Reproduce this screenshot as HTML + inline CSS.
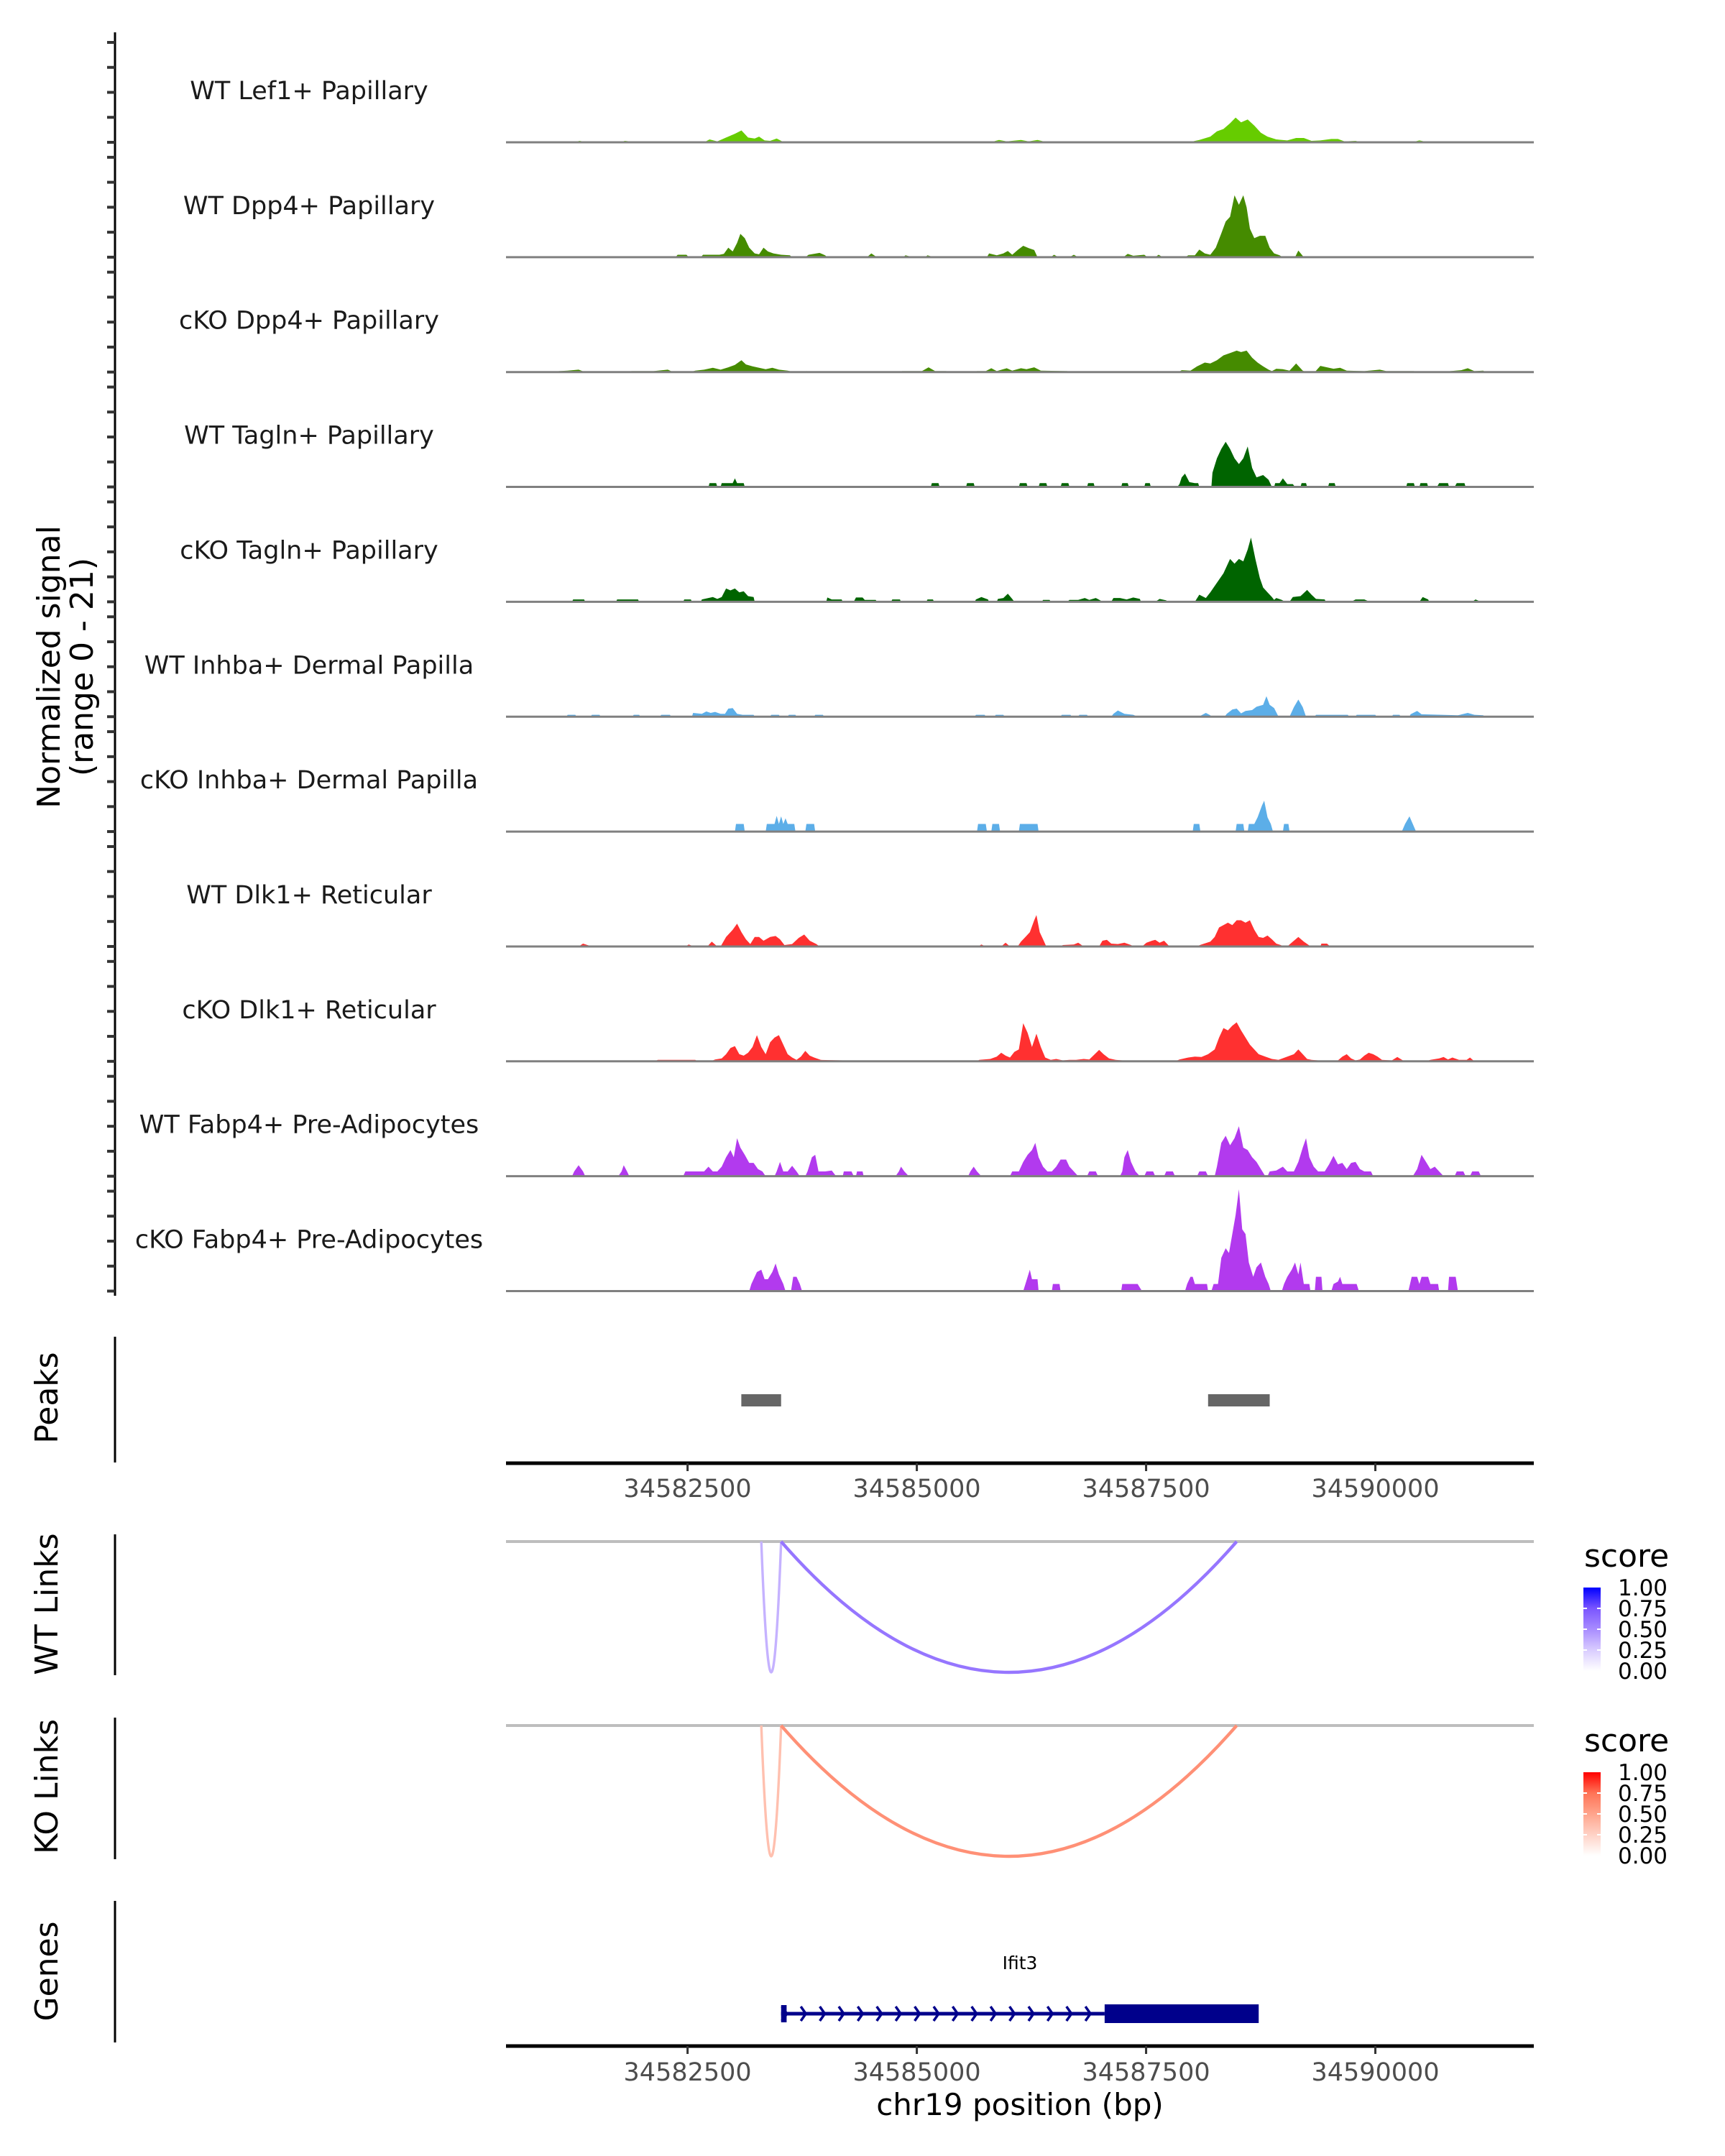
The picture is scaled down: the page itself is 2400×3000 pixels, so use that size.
<!DOCTYPE html>
<html><head><meta charset="utf-8"><title>Coverage plot chr19</title>
<style>
html,body{margin:0;padding:0;background:#fff;}
svg{display:block;font-family:"DejaVu Sans","Liberation Sans",sans-serif;}
</style></head>
<body>
<svg id="chart" xmlns="http://www.w3.org/2000/svg" width="2400" height="3000" viewBox="0 0 2400 3000"></svg>
<script>
// ---------- data ----------
const trackNames = ["WT Lef1+ Papillary","WT Dpp4+ Papillary","cKO Dpp4+ Papillary","WT Tagln+ Papillary","cKO Tagln+ Papillary","WT Inhba+ Dermal Papilla","cKO Inhba+ Dermal Papilla","WT Dlk1+ Reticular","cKO Dlk1+ Reticular","WT Fabp4+ Pre-Adipocytes","cKO Fabp4+ Pre-Adipocytes"];
const trackColors = ["#66cc00","#458b00","#458b00","#006400","#006400","#5caee8","#5caee8","#ff3030","#ff3030","#b23aee","#b23aee"];
const xTicks = [34582500,34585000,34587500,34590000];
const signalMax = 21;

const covWTLef1 = [[34581240,0],[34581324,.3],[34581408,0],[34581540,0],[34581588,.2],[34581636,0],[34581756,0],[34581816,.3],[34581912,.1],[34582080,.1],[34582152,0],[34582440,0],[34582500,.2],[34582584,0],[34582680,0],[34582740,.6],[34582824,.2],[34582920,1.0],[34583016,1.8],[34583088,2.5],[34583160,1.0],[34583232,.8],[34583280,1.2],[34583340,.4],[34583400,.3],[34583472,.8],[34583532,.2],[34583700,.1],[34583760,0],[34584840,0],[34584900,.15],[34585440,.15],[34585500,0],[34585800,0],[34585896,.5],[34585980,.2],[34586136,.5],[34586220,.2],[34586316,.5],[34586400,.1],[34587060,.1],[34587120,0],[34587960,0],[34588080,.5],[34588200,1.2],[34588272,2.3],[34588344,2.8],[34588416,4.0],[34588476,5.2],[34588536,4.2],[34588608,4.8],[34588680,3.5],[34588752,2.0],[34588824,1.2],[34588920,.6],[34589040,.4],[34589136,.9],[34589220,.9],[34589304,.3],[34589400,.4],[34589520,.7],[34589592,.7],[34589664,.2],[34589784,.3],[34589856,0],[34590396,0],[34590480,.4],[34590552,.1],[34591200,.1],[34591224,0]];
const covWTDpp4 = [[34582368,0],[34582392,.5],[34582488,.5],[34582512,0],[34582644,0],[34582668,.5],[34582848,.5],[34582896,.7],[34582944,2.0],[34582992,1.2],[34583040,3.0],[34583076,4.9],[34583124,4.0],[34583172,2.0],[34583232,.8],[34583280,.6],[34583328,2.0],[34583376,1.2],[34583436,.8],[34583520,.5],[34583616,.4],[34583640,0],[34583784,0],[34583820,.5],[34583940,.9],[34584000,.4],[34584024,0],[34584456,0],[34584504,.8],[34584564,0],[34584852,0],[34584876,.4],[34584960,0],[34585092,0],[34585116,.4],[34585188,0],[34585764,0],[34585788,.8],[34585872,.4],[34585944,.8],[34585992,1.3],[34586040,.5],[34586100,1.5],[34586160,2.4],[34586220,1.9],[34586280,1.5],[34586316,0],[34586460,0],[34586496,.5],[34586544,0],[34586664,0],[34586712,.5],[34586760,0],[34587252,0],[34587300,.7],[34587360,.3],[34587480,.5],[34587516,0],[34587600,0],[34587636,.5],[34587684,0],[34587924,0],[34587960,.4],[34588032,.4],[34588080,1.6],[34588140,.8],[34588200,.5],[34588260,2.0],[34588320,5.0],[34588368,7.5],[34588416,8.5],[34588464,13.0],[34588512,11.0],[34588560,13.0],[34588596,10.5],[34588632,6.0],[34588680,4.0],[34588740,4.5],[34588800,4.5],[34588848,2.0],[34588896,.8],[34588956,.4],[34588992,0],[34589124,0],[34589160,1.4],[34589220,0]];
const covKODpp4 = [[34581060,0],[34581096,.2],[34581192,.3],[34581312,.5],[34581384,0],[34581864,0],[34581888,.2],[34582128,.2],[34582284,.5],[34582344,0],[34582524,0],[34582584,.3],[34582680,.5],[34582776,.9],[34582860,.5],[34582944,1.0],[34583016,1.5],[34583088,2.5],[34583136,1.6],[34583208,1.2],[34583280,.9],[34583352,.6],[34583424,.9],[34583496,.5],[34583592,.3],[34583664,0],[34583760,0],[34583796,.2],[34583856,0],[34584816,0],[34584840,.2],[34585056,.2],[34585128,1.0],[34585200,.2],[34585320,.2],[34585344,0],[34585632,0],[34585656,.2],[34585752,.2],[34585812,.8],[34585872,.2],[34585980,.8],[34586040,.3],[34586136,.8],[34586196,.6],[34586280,1.0],[34586352,.3],[34586640,.2],[34586664,0],[34587600,0],[34587624,.2],[34587696,0],[34587852,0],[34587888,.4],[34587984,.3],[34588056,1.2],[34588140,2.0],[34588200,1.8],[34588272,2.5],[34588344,3.5],[34588416,4.0],[34588488,4.5],[34588536,4.2],[34588596,4.5],[34588656,3.0],[34588716,2.0],[34588776,1.2],[34588836,.5],[34588872,.2],[34588920,.7],[34588992,.6],[34589064,.3],[34589136,1.8],[34589208,.3],[34589244,0],[34589340,0],[34589400,1.3],[34589472,1.0],[34589544,.7],[34589616,.9],[34589688,.3],[34589880,.2],[34590048,.5],[34590120,.2],[34590420,.2],[34590456,0],[34590780,0],[34590816,.2],[34590936,.4],[34591008,.8],[34591080,.2],[34591176,.3],[34591200,0]];
const covWTTagln = [[34582728,0],[34582740,.8],[34582812,.8],[34582824,0],[34582860,0],[34582872,.8],[34582992,.8],[34583016,1.8],[34583040,.8],[34583112,.8],[34583124,0],[34585152,0],[34585164,.8],[34585236,.8],[34585248,0],[34585536,0],[34585548,.8],[34585620,.8],[34585632,0],[34586112,0],[34586124,.8],[34586196,.8],[34586208,0],[34586328,0],[34586340,.8],[34586412,.8],[34586424,0],[34586568,0],[34586580,.8],[34586652,.8],[34586664,0],[34586856,0],[34586868,.8],[34586928,.8],[34586940,0],[34587228,0],[34587240,.8],[34587300,.8],[34587312,0],[34587480,0],[34587492,.8],[34587540,.8],[34587552,0],[34587840,0],[34587864,.6],[34587888,2.0],[34587924,2.8],[34587972,1.0],[34588032,.8],[34588068,.8],[34588080,0],[34588212,0],[34588224,3.0],[34588272,6.0],[34588320,8.0],[34588368,9.5],[34588416,8.0],[34588464,6.0],[34588512,4.8],[34588560,6.0],[34588608,8.5],[34588656,4.0],[34588704,2.0],[34588776,2.5],[34588836,1.5],[34588872,0],[34588896,0],[34588908,.8],[34588956,.8],[34588992,1.8],[34589040,.6],[34589100,.6],[34589124,0],[34589184,0],[34589196,.8],[34589244,.8],[34589256,0],[34589484,0],[34589496,.8],[34589556,.8],[34589568,0],[34590336,0],[34590348,.8],[34590420,.8],[34590432,0],[34590480,0],[34590492,.8],[34590564,.8],[34590576,0],[34590672,0],[34590696,.8],[34590792,.8],[34590804,0],[34590864,0],[34590888,.8],[34590972,.8],[34590984,0]];
const covKOTagln = [[34581240,0],[34581252,.5],[34581372,.5],[34581384,0],[34581720,0],[34581732,.5],[34581960,.5],[34581972,0],[34582452,0],[34582464,.5],[34582536,.5],[34582548,0],[34582644,0],[34582656,.5],[34582776,1.0],[34582824,.6],[34582872,1.0],[34582920,2.8],[34582968,2.4],[34583016,2.8],[34583064,2.0],[34583112,2.2],[34583160,1.2],[34583220,1.0],[34583232,0],[34584012,0],[34584024,.9],[34584072,.5],[34584180,.5],[34584192,0],[34584312,0],[34584336,.9],[34584408,.9],[34584432,.4],[34584552,.4],[34584564,0],[34584720,0],[34584732,.5],[34584816,.5],[34584828,0],[34585104,0],[34585116,.5],[34585176,.5],[34585188,0],[34585632,0],[34585644,.5],[34585704,1.0],[34585776,.5],[34585788,0],[34585872,0],[34585884,.6],[34585944,.8],[34585992,1.7],[34586040,.6],[34586064,0],[34586364,0],[34586376,.4],[34586448,.4],[34586460,0],[34586640,0],[34586664,.4],[34586760,.4],[34586832,.8],[34586880,.4],[34586952,.8],[34587000,.3],[34587024,0],[34587120,0],[34587144,.8],[34587216,.8],[34587288,.5],[34587360,.9],[34587432,.6],[34587444,0],[34587600,0],[34587648,.6],[34587720,.3],[34587732,0],[34588032,0],[34588080,1.5],[34588152,.8],[34588200,2.0],[34588272,4.0],[34588344,6.0],[34588416,9.0],[34588464,8.0],[34588512,9.0],[34588560,8.5],[34588608,11.0],[34588644,13.5],[34588692,9.0],[34588740,5.0],[34588776,3.0],[34588824,2.0],[34588872,1.0],[34588896,.4],[34588920,.8],[34588980,.4],[34589016,0],[34589064,0],[34589100,1.0],[34589184,1.2],[34589256,2.5],[34589304,1.5],[34589352,.6],[34589448,.5],[34589460,0],[34589736,0],[34589784,.5],[34589880,.5],[34589940,0],[34590480,0],[34590516,1.0],[34590576,.5],[34590588,0],[34591056,0],[34591092,.5],[34591152,0]];
const covWTInhba = [[34581180,0],[34581192,.4],[34581276,.4],[34581288,0],[34581444,0],[34581456,.4],[34581540,.4],[34581552,0],[34581900,0],[34581912,.4],[34581972,.4],[34581984,0],[34582200,0],[34582212,.4],[34582308,.4],[34582320,0],[34582548,0],[34582560,.8],[34582656,.6],[34582704,1.1],[34582752,.8],[34582800,1.0],[34582860,.6],[34582908,.6],[34582944,1.7],[34582992,1.8],[34583040,.6],[34583100,.4],[34583220,.4],[34583232,0],[34583400,0],[34583412,.4],[34583496,.4],[34583508,0],[34583592,0],[34583604,.4],[34583676,.4],[34583688,0],[34583880,0],[34583892,.4],[34583976,.4],[34583988,0],[34585632,0],[34585644,.4],[34585740,.4],[34585752,0],[34585848,0],[34585860,.4],[34585944,.4],[34585956,0],[34586568,0],[34586580,.4],[34586676,.4],[34586688,0],[34586760,0],[34586772,.4],[34586856,.4],[34586868,0],[34587120,0],[34587144,.6],[34587192,1.3],[34587264,.6],[34587360,.4],[34587408,0],[34588080,0],[34588104,.3],[34588152,.8],[34588200,.3],[34588212,0],[34588356,0],[34588380,.6],[34588440,1.5],[34588488,1.7],[34588536,.7],[34588584,1.2],[34588656,1.4],[34588704,2.1],[34588776,2.5],[34588812,4.3],[34588848,2.5],[34588896,1.8],[34588944,0],[34589064,0],[34589112,2.0],[34589160,3.6],[34589208,2.0],[34589244,0],[34589340,0],[34589352,.4],[34589700,.4],[34589712,0],[34589784,0],[34589796,.4],[34590000,.4],[34590012,0],[34590180,0],[34590192,.4],[34590264,.4],[34590276,0],[34590372,0],[34590384,.5],[34590456,1.2],[34590504,.5],[34590900,.3],[34591008,.8],[34591080,.4],[34591176,.3],[34591188,0]];
const covKOInhba = [[34583016,0],[34583028,1.6],[34583112,1.6],[34583124,0],[34583352,0],[34583364,1.6],[34583448,1.6],[34583472,3.3],[34583496,1.6],[34583520,3.2],[34583544,1.6],[34583568,2.8],[34583592,1.6],[34583664,1.6],[34583676,0],[34583784,0],[34583796,1.6],[34583880,1.6],[34583892,0],[34585656,0],[34585668,1.6],[34585752,1.6],[34585764,0],[34585812,0],[34585824,1.6],[34585896,1.6],[34585908,0],[34586112,0],[34586124,1.6],[34586316,1.6],[34586328,0],[34588008,0],[34588020,1.6],[34588080,1.6],[34588092,0],[34588476,0],[34588488,1.6],[34588560,1.6],[34588572,0],[34588608,0],[34588620,1.6],[34588680,1.6],[34588716,3.0],[34588764,5.5],[34588788,6.5],[34588824,3.0],[34588860,1.6],[34588884,0],[34588992,0],[34589004,1.6],[34589052,1.6],[34589064,0],[34590288,0],[34590324,1.6],[34590372,3.2],[34590408,1.6],[34590444,0]];
const covWTDlk1 = [[34581312,0],[34581360,.6],[34581408,.3],[34581468,0],[34582476,0],[34582512,.4],[34582572,0],[34582716,0],[34582764,1.0],[34582824,0],[34582860,0],[34582920,2.0],[34582992,3.5],[34583040,4.8],[34583088,3.0],[34583136,1.5],[34583184,.5],[34583232,2.0],[34583280,2.0],[34583328,1.2],[34583400,2.0],[34583460,2.2],[34583508,1.5],[34583556,.3],[34583640,.5],[34583712,1.8],[34583772,2.5],[34583832,1.2],[34583904,.5],[34583940,0],[34585668,0],[34585704,.4],[34585752,0],[34585920,0],[34585968,.8],[34586016,0],[34586100,0],[34586136,1.0],[34586184,2.0],[34586232,3.0],[34586280,5.5],[34586304,6.6],[34586340,3.0],[34586376,1.5],[34586412,0],[34586568,0],[34586592,.3],[34586712,.4],[34586760,.8],[34586820,0],[34586988,0],[34587024,1.2],[34587072,1.4],[34587120,.6],[34587192,.5],[34587264,.8],[34587336,.3],[34587372,0],[34587456,0],[34587504,.8],[34587564,1.2],[34587600,1.4],[34587648,.8],[34587696,1.2],[34587756,0],[34588044,0],[34588104,.4],[34588200,1.0],[34588248,2.0],[34588296,4.0],[34588344,4.5],[34588392,5.0],[34588440,4.5],[34588488,5.5],[34588536,5.5],[34588584,5.0],[34588632,5.5],[34588680,3.5],[34588728,2.0],[34588776,1.8],[34588824,2.3],[34588872,1.5],[34588920,.6],[34588968,.3],[34589004,0],[34589040,0],[34589100,1.0],[34589160,2.0],[34589220,1.0],[34589280,.2],[34589304,0],[34589400,0],[34589412,.6],[34589472,.6],[34589496,.2],[34589616,.2],[34589640,0]];
const covKODlk1 = [[34582140,0],[34582176,.3],[34582584,.3],[34582608,0],[34582752,0],[34582800,.4],[34582872,.6],[34582920,1.5],[34582968,2.8],[34583016,3.2],[34583064,1.5],[34583112,1.2],[34583160,1.8],[34583208,3.0],[34583256,5.5],[34583304,3.0],[34583352,1.5],[34583400,4.0],[34583448,5.0],[34583496,5.5],[34583544,3.5],[34583592,1.5],[34583640,.8],[34583688,.3],[34583736,1.0],[34583784,2.2],[34583832,1.2],[34583880,.8],[34583952,.3],[34584192,.2],[34584216,0],[34584420,0],[34584444,.2],[34584492,0],[34584672,0],[34584696,.2],[34584744,0],[34585032,0],[34585056,.2],[34585272,.2],[34585296,0],[34585524,0],[34585560,.2],[34585608,0],[34585656,0],[34585680,.3],[34585800,.5],[34585872,1.0],[34585920,1.8],[34585968,1.2],[34586016,.8],[34586064,2.0],[34586112,2.5],[34586160,8.0],[34586208,6.0],[34586256,3.0],[34586304,5.8],[34586352,3.0],[34586400,.8],[34586460,.3],[34586520,.5],[34586592,.2],[34586664,.3],[34586736,.3],[34586820,.5],[34586880,.4],[34586940,1.5],[34586988,2.4],[34587036,1.5],[34587096,.6],[34587168,.3],[34587240,.2],[34587264,0],[34587816,0],[34587864,.4],[34587960,.8],[34588032,1.0],[34588104,.9],[34588176,1.5],[34588248,2.5],[34588296,5.0],[34588344,7.0],[34588392,6.5],[34588440,7.5],[34588488,8.2],[34588536,6.5],[34588584,5.0],[34588632,3.5],[34588680,2.5],[34588728,1.5],[34588800,1.0],[34588872,.5],[34588944,.3],[34589040,1.0],[34589112,1.5],[34589160,2.5],[34589208,1.5],[34589256,.5],[34589304,.3],[34589376,.2],[34589520,.2],[34589592,.2],[34589640,1.0],[34589688,1.5],[34589736,.6],[34589784,.2],[34589832,.4],[34589880,1.2],[34589928,1.8],[34589976,1.5],[34590024,1.0],[34590072,.3],[34590180,.2],[34590240,.9],[34590300,.2],[34590360,0],[34590552,0],[34590600,.3],[34590696,.6],[34590744,.9],[34590792,.4],[34590840,.8],[34590912,.3],[34590996,.3],[34591032,.8],[34591068,.2],[34591200,.2],[34591224,0]];
const covWTFabp4 = [[34581240,0],[34581264,1.0],[34581312,2.3],[34581360,1.0],[34581384,0],[34581744,0],[34581780,1.0],[34581804,2.3],[34581840,1.0],[34581864,0],[34582452,0],[34582476,1.0],[34582680,1.0],[34582728,2.0],[34582776,1.0],[34582824,1.0],[34582872,2.0],[34582920,4.0],[34582968,5.5],[34583004,4.0],[34583040,8.0],[34583076,6.0],[34583124,4.5],[34583172,2.8],[34583220,2.8],[34583268,1.5],[34583316,1.0],[34583352,0],[34583448,0],[34583472,1.0],[34583508,3.0],[34583544,1.0],[34583592,1.0],[34583640,2.2],[34583688,1.0],[34583724,0],[34583784,0],[34583808,1.0],[34583856,4.0],[34583892,4.5],[34583928,1.0],[34584000,1.0],[34584072,1.2],[34584120,0],[34584192,0],[34584204,1.0],[34584288,1.0],[34584312,0],[34584336,0],[34584348,1.0],[34584408,1.0],[34584420,0],[34584768,0],[34584804,1.0],[34584828,2.0],[34584864,1.0],[34584912,0],[34585560,0],[34585584,1.0],[34585620,2.0],[34585656,1.0],[34585704,0],[34586016,0],[34586040,1.0],[34586112,1.0],[34586160,3.0],[34586208,4.5],[34586256,5.5],[34586292,7.0],[34586328,4.0],[34586376,2.0],[34586424,1.0],[34586472,1.0],[34586520,2.0],[34586568,3.5],[34586628,3.5],[34586664,2.0],[34586712,1.0],[34586760,0],[34586856,0],[34586880,1.0],[34586952,1.0],[34586976,0],[34587216,0],[34587240,1.0],[34587264,4.0],[34587300,5.5],[34587336,3.0],[34587384,1.0],[34587432,0],[34587480,0],[34587504,1.0],[34587576,1.0],[34587600,0],[34587696,0],[34587720,1.0],[34587792,1.0],[34587816,0],[34588056,0],[34588080,1.0],[34588152,1.0],[34588176,0],[34588248,0],[34588272,2.0],[34588320,7.0],[34588368,8.5],[34588416,6.5],[34588464,8.0],[34588512,10.5],[34588560,6.0],[34588608,5.5],[34588656,4.0],[34588704,3.0],[34588752,1.5],[34588800,0],[34588824,0],[34588848,1.0],[34588920,1.2],[34588992,2.0],[34589040,1.0],[34589112,1.0],[34589160,3.0],[34589208,6.0],[34589244,8.0],[34589280,4.0],[34589328,2.0],[34589376,1.0],[34589448,1.0],[34589496,2.5],[34589544,4.3],[34589592,2.5],[34589640,2.8],[34589688,1.5],[34589736,2.8],[34589784,3.0],[34589832,1.5],[34589880,1.0],[34589952,1.0],[34589976,0],[34590408,0],[34590456,1.5],[34590504,4.5],[34590552,3.0],[34590600,1.5],[34590648,2.0],[34590696,1.0],[34590744,0],[34590864,0],[34590888,1.0],[34590960,1.0],[34590984,0],[34591032,0],[34591056,1.0],[34591128,1.0],[34591152,0]];
const covKOFabp4 = [[34583172,0],[34583196,1.5],[34583256,4.0],[34583304,4.5],[34583340,2.5],[34583376,2.5],[34583424,4.0],[34583460,5.8],[34583496,3.5],[34583544,1.5],[34583568,0],[34583628,0],[34583652,3.0],[34583688,3.0],[34583724,1.5],[34583748,0],[34586160,0],[34586184,1.5],[34586232,4.5],[34586256,2.5],[34586316,2.5],[34586328,0],[34586472,0],[34586484,1.5],[34586556,1.5],[34586568,0],[34587228,0],[34587240,1.5],[34587408,1.5],[34587456,0],[34587924,0],[34587948,1.5],[34587984,3.0],[34588008,3.0],[34588032,1.5],[34588164,1.5],[34588176,0],[34588212,0],[34588236,1.5],[34588284,1.5],[34588320,7.0],[34588368,9.0],[34588404,8.0],[34588440,12.0],[34588476,16.0],[34588512,21.4],[34588548,13.0],[34588584,12.0],[34588620,6.0],[34588668,3.0],[34588704,5.0],[34588752,6.0],[34588800,3.0],[34588836,1.5],[34588860,0],[34588980,0],[34589004,1.5],[34589040,3.0],[34589088,4.5],[34589124,6.0],[34589160,3.5],[34589184,6.0],[34589220,1.5],[34589280,1.5],[34589292,0],[34589340,0],[34589352,3.0],[34589412,3.0],[34589424,0],[34589520,0],[34589544,1.5],[34589592,2.0],[34589616,3.0],[34589640,1.5],[34589796,1.5],[34589820,0],[34590360,0],[34590396,3.0],[34590456,3.0],[34590480,1.5],[34590504,3.0],[34590576,3.0],[34590600,1.5],[34590684,1.5],[34590696,0],[34590792,0],[34590804,3.0],[34590876,3.0],[34590900,0]];
const coverage = [covWTLef1,covWTDpp4,covKODpp4,covWTTagln,covKOTagln,covWTInhba,covKOInhba,covWTDlk1,covKODlk1,covWTFabp4,covKOFabp4];

const peakStarts = [34583086,34588176];
const peakEnds = [34583520,34588848];

const wtLinkStarts = [34583304,34583520];
const wtLinkEnds = [34583520,34588488];
const wtLinkScores = [0.35,0.6];
const koLinkStarts = [34583304,34583520];
const koLinkEnds = [34583520,34588488];
const koLinkScores = [0.35,0.6];
const legendTicks = [1.00,0.75,0.50,0.25,0.00];

const geneName = "Ifit3";
const geneStart = 34583520, geneEnd = 34588728;
const exonStarts = [34583520,34587048];
const exonEnds = [34583580,34588728];
const cdsStart = 34587048;

// ---------- layout ----------
const svg = document.getElementById('chart');
const NS = 'http://www.w3.org/2000/svg';
const X0 = 704, X1 = 2134, DOM0 = 34580520, DOM1 = 34591728;
function xs(bp){ return X0 + (bp - DOM0) * (X1 - X0) / (DOM1 - DOM0); }
const TRACK_BASE0 = 198, TRACK_STEP = 159.85, TRACK_H = 139;
function ys(v, base){ return base - v / signalMax * TRACK_H; }
function mk(tag, attrs, parent){
  const e = document.createElementNS(NS, tag);
  for (const k in attrs) e.setAttribute(k, attrs[k]);
  (parent || svg).appendChild(e);
  return e;
}
function txt(str, attrs, parent){ const t = mk('text', attrs, parent); t.textContent = str; return t; }

// Left axis for coverage tracks
const yAxis = mk('line', {x1:160,y1:45,x2:160,y2:1803,stroke:'#000','stroke-width':3});



const yTitle = txt('Normalized signal', {x:0,y:0,'font-size':44,'text-anchor':'middle',fill:'#000',transform:'translate(83,928) rotate(-90)'});


const yTitle2 = txt('(range 0 - 21)', {x:0,y:0,'font-size':44,'text-anchor':'middle',fill:'#000',transform:'translate(129,928) rotate(-90)'});



coverage.forEach((pts, i) => {
  const base = TRACK_BASE0 + i * TRACK_STEP;
  const g = mk('g', {});
  
  
  for (let k = 0; k < 5; k++) {
    const tk = mk('line', {x1:149,x2:160,y1:base - k * TRACK_H / 4,y2:base - k * TRACK_H / 4,stroke:'#333','stroke-width':4}, g);
    
    
  }
  let d = 'M' + xs(pts[0][0]).toFixed(1) + ',' + base;
  pts.forEach(p => { d += 'L' + xs(p[0]).toFixed(1) + ',' + ys(p[1], base).toFixed(1); });
  d += 'L' + xs(pts[pts.length-1][0]).toFixed(1) + ',' + base + 'Z';
  const area = mk('path', {d:d, fill:trackColors[i]}, g);
  
  
  const bl = mk('line', {x1:X0,x2:X1,y1:base,y2:base,stroke:'#808080','stroke-width':3}, g);
  
  
  const lab = txt(trackNames[i], {x:430,y:base - 60,'font-size':35,'text-anchor':'middle',fill:'#1a1a1a'}, g);
  
  
});

// side panels: axis lines and labels
const panels = [['Peaks',1860,2035,1945,'peaks'],['WT Links',2135,2331,2232,'wt-links'],['KO Links',2390,2587,2486,'ko-links'],['Genes',2645,2842,2743,'genes']];
panels.forEach(p => {
  const ln = mk('line', {x1:160,x2:160,y1:p[1],y2:p[2],stroke:'#000','stroke-width':3});
  
  
  const t = txt(p[0], {x:0,y:0,'font-size':44,'text-anchor':'middle',fill:'#000',transform:'translate(80,' + p[3] + ') rotate(-90)'});
  
  
});

// peaks
peakStarts.forEach((s, i) => {
  const r = mk('rect', {x:xs(s),y:1940,width:xs(peakEnds[i]) - xs(s),height:17,fill:'#666666'});
  
  
});

function xAxis(y, labelY, name){
  const g = mk('g', {});
  
  
  mk('line', {x1:X0,x2:X1,y1:y,y2:y,stroke:'#000','stroke-width':5}, g);
  xTicks.forEach(t => {
    const tk = mk('line', {x1:xs(t),x2:xs(t),y1:y,y2:y + 11,stroke:'#333','stroke-width':3}, g);
    
    
    const lb = txt(String(t), {x:xs(t),y:labelY,'font-size':35,'text-anchor':'middle',fill:'#4d4d4d'}, g);
    
    
  });
}
xAxis(2036, 2083, 'peaks-x-axis');

// links
function lerpHex(a, b, t){
  const pa = [1,3,5].map(i => parseInt(a.substr(i,2),16));
  const pb = [1,3,5].map(i => parseInt(b.substr(i,2),16));
  return 'rgb(' + pa.map((v,i) => Math.round(v + (pb[i]-v)*t)).join(',') + ')';
}
function scoreColor(stops, s){
  const n = stops.length - 1;
  const k = Math.min(n - 1, Math.floor(s * n));
  return lerpHex(stops[k], stops[k+1], s * n - k);
}
const blueStops = ['#ffffff','#d9ccff','#a88cff','#7a55ff','#0000ff'];
const redStops = ['#ffffff','#ffd2c6','#ffa48c','#ff7356','#ff0000'];

function linkPanel(baseY, bottomY, starts, ends, scores, stops, name, legendY, legName){
  const g = mk('g', {});
  
  
  mk('line', {x1:X0,x2:X1,y1:baseY,y2:baseY,stroke:'#bebebe','stroke-width':4}, g);
  starts.forEach((s, i) => {
    const xa = xs(s), xb = xs(ends[i]);
    const ctrlY = baseY + 2 * (bottomY - baseY);
    const p = mk('path', {d:'M' + xa + ',' + baseY + ' Q' + ((xa+xb)/2) + ',' + ctrlY + ' ' + xb + ',' + baseY, fill:'none', stroke:scoreColor(stops, scores[i]), 'stroke-width':2 + scores[i]*4}, g);
    
    
  });
  // legend
  const lg = mk('g', {});
  
  
  txt('score', {x:2204,y:legendY,'font-size':44,fill:'#000'}, lg);
  const barTop = legendY + 29, barBot = legendY + 145;
  const gid = name + '-grad';
  const defs = mk('defs', {}, lg);
  const grad = mk('linearGradient', {id:gid,x1:0,y1:1,x2:0,y2:0}, defs);
  stops.forEach((c, i) => mk('stop', {offset:(i/(stops.length-1)), 'stop-color':c}, grad));
  mk('rect', {x:2203,y:barTop,width:24,height:barBot - barTop,fill:'url(#' + gid + ')'}, lg);
  legendTicks.forEach(v => {
    const yy = barBot - v * (barBot - barTop);
    if (v > 0 && v < 1) {
      mk('line', {x1:2203,x2:2208,y1:yy,y2:yy,stroke:'#fff','stroke-width':2}, lg);
      mk('line', {x1:2222,x2:2227,y1:yy,y2:yy,stroke:'#fff','stroke-width':2}, lg);
    }
    const t = txt(v.toFixed(2), {x:2251,y:yy + 11,'font-size':31,fill:'#000'}, lg);
    
    
  });
}
linkPanel(2145, 2327, wtLinkStarts, wtLinkEnds, wtLinkScores, blueStops, 'wt-links-panel', 2180, 'wt-score-legend');
linkPanel(2401, 2583, koLinkStarts, koLinkEnds, koLinkScores, redStops, 'ko-links-panel', 2437, 'ko-score-legend');

// gene track
const gg = mk('g', {});


const GY = 2802;
mk('line', {x1:xs(geneStart),x2:xs(cdsStart),y1:GY,y2:GY,stroke:'#00008b','stroke-width':5}, gg);
mk('rect', {x:xs(exonStarts[0]),y:GY - 12,width:Math.max(5, xs(exonEnds[0]) - xs(exonStarts[0])),height:24,fill:'#00008b'}, gg);
mk('rect', {x:xs(exonStarts[1]),y:GY - 13,width:xs(exonEnds[1]) - xs(exonStarts[1]),height:26,fill:'#00008b'}, gg);
for (let x = xs(geneStart) + 4; x < xs(cdsStart) - 4; x += 26.4) {
  mk('path', {d:'M' + (x-3) + ',' + (GY-10) + ' L' + (x+4) + ',' + GY + ' L' + (x-3) + ',' + (GY+10), fill:'none', stroke:'#00008b','stroke-width':3.5}, gg);
}
const gl = txt(geneName, {x:(xs(geneStart) + xs(geneEnd)) / 2,y:2740,'font-size':25,'text-anchor':'middle',fill:'#000'}, gg);



xAxis(2847, 2895, 'genomic-x-axis');
const xt = txt('chr19 position (bp)', {x:(X0 + X1) / 2,y:2943,'font-size':42,'text-anchor':'middle',fill:'#000'});


</script>
</body></html>
